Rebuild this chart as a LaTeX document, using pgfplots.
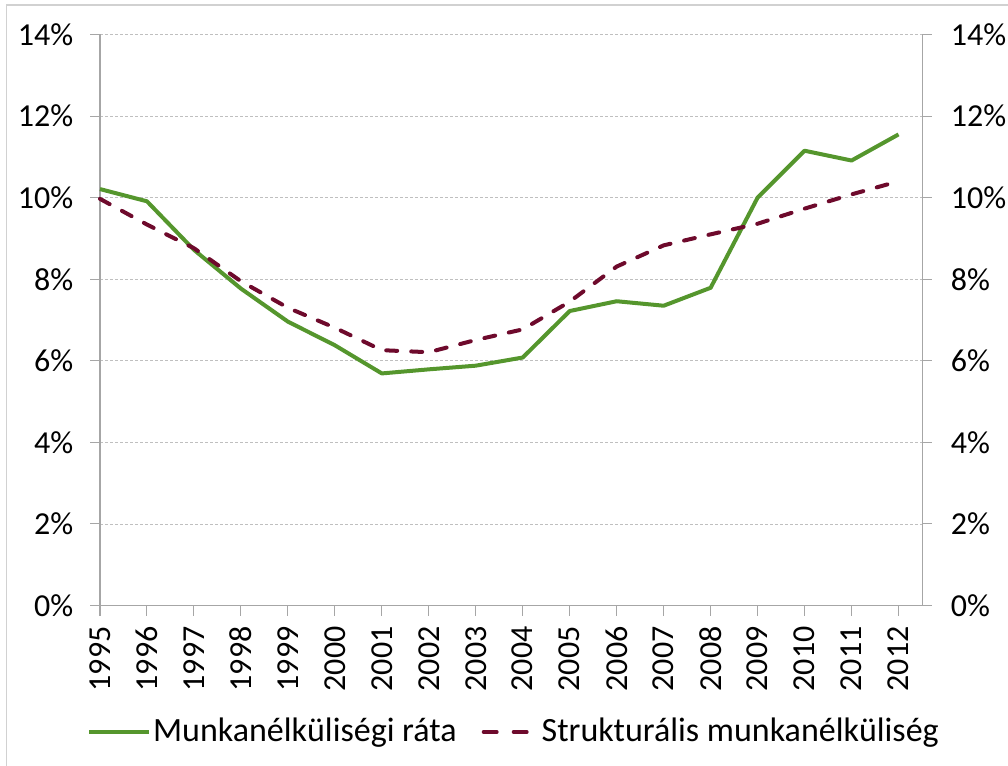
\documentclass[border=0pt]{standalone}
\usepackage{fontspec}
\setmainfont{Carlito}
\usepackage{pgfplots}
\pgfplotsset{compat=1.18}
\definecolor{cgreen}{HTML}{55962D}
\definecolor{cred}{HTML}{6E0A2C}
\definecolor{caxis}{HTML}{A6A6A6}
\definecolor{cgrid}{HTML}{BFBFBF}
\begin{document}
\fontsize{32}{36}\selectfont
\begin{tikzpicture}
\useasboundingbox (-100pt,-159.5pt) rectangle (908pt,605.5pt);
\draw[color=black!18, line width=1.5pt] (-93.5pt,-160pt) -- (-93.5pt,600.5pt) -- (909pt,600.5pt);
\begin{axis}[
  at={(0pt,0pt)}, anchor=south west,
  scale only axis, width=822pt, height=571pt,
  xmin=1995, xmax=2012.5, ymin=0, ymax=14,
  axis x line*=bottom, axis y line*=left,
  axis line style={caxis, line width=1pt},
  tick style={caxis, line width=1pt},
  tick align=outside, major tick length=10pt,
  xtick={1995,...,2012},
  xticklabels={1995,1996,1997,1998,1999,2000,2001,2002,2003,2004,2005,2006,2007,2008,2009,2010,2011,2012},
  xticklabel style={rotate=90, anchor=east, font=\fontsize{32}{36}\selectfont},
  ytick={0,2,...,14},
  yticklabels={0\%,2\%,4\%,6\%,8\%,10\%,12\%,14\%},
  yticklabel style={font=\fontsize{32}{36}\selectfont, xshift=-6pt},
  ymajorgrids,
  major grid style={cgrid, line width=0.8pt, dash pattern=on 3pt off 2pt},
  legend columns=2,
  legend style={draw=none, fill=none, at={(0.5036,-0.2215)}, anchor=center,
    font=\fontsize{34}{38}\selectfont,
    /tikz/every even column/.append style={column sep=15pt}},
  legend image code/.code={\draw[#1] (0pt,0pt) -- (60pt,0pt);},
  clip=false,
]
\addplot[cgreen, line width=4pt, line join=round] coordinates {
(1995,10.21) (1996,9.91) (1997,8.72) (1998,7.77) (1999,6.96) (2000,6.38)
(2001,5.69) (2002,5.79) (2003,5.88) (2004,6.08) (2005,7.22) (2006,7.46)
(2007,7.35) (2008,7.79) (2009,10.0) (2010,11.15) (2011,10.91) (2012,11.55)};
\addlegendentry{Munkanélküliségi ráta}
\addplot[cred, line width=4pt, line cap=round, dash pattern=on 11pt off 14pt,
  legend image code/.code={\path[draw=none, fill=none] (0pt,-2pt) rectangle (66pt,2pt);
    \draw[cred, line width=4pt, line cap=round, solid] (10pt,0pt) -- (23pt,0pt);
    \draw[cred, line width=4pt, line cap=round, solid] (40pt,0pt) -- (53pt,0pt);}] coordinates {
(1995,9.97) (1996,9.34) (1997,8.76) (1998,7.95) (1999,7.30) (2000,6.81)
(2001,6.26) (2002,6.21) (2003,6.51) (2004,6.77) (2005,7.45) (2006,8.31)
(2007,8.83) (2008,9.10) (2009,9.36) (2010,9.73) (2011,10.08) (2012,10.40)};
\addlegendentry{Strukturális munkanélküliség}
\end{axis}
\begin{axis}[
  at={(0pt,0pt)}, anchor=south west,
  scale only axis, width=822pt, height=571pt,
  xmin=1995, xmax=2012.5, ymin=0, ymax=14,
  axis x line=none, axis y line*=right,
  axis line style={caxis, line width=1pt},
  tick style={caxis, line width=1pt},
  tick align=outside, major tick length=10pt,
  ytick={0,2,...,14},
  yticklabels={0\%,2\%,4\%,6\%,8\%,10\%,12\%,14\%},
  yticklabel style={font=\fontsize{32}{36}\selectfont, xshift=8pt},
]
\addplot[draw=none] coordinates {(1995,0)};
\end{axis}
\end{tikzpicture}
\end{document}
